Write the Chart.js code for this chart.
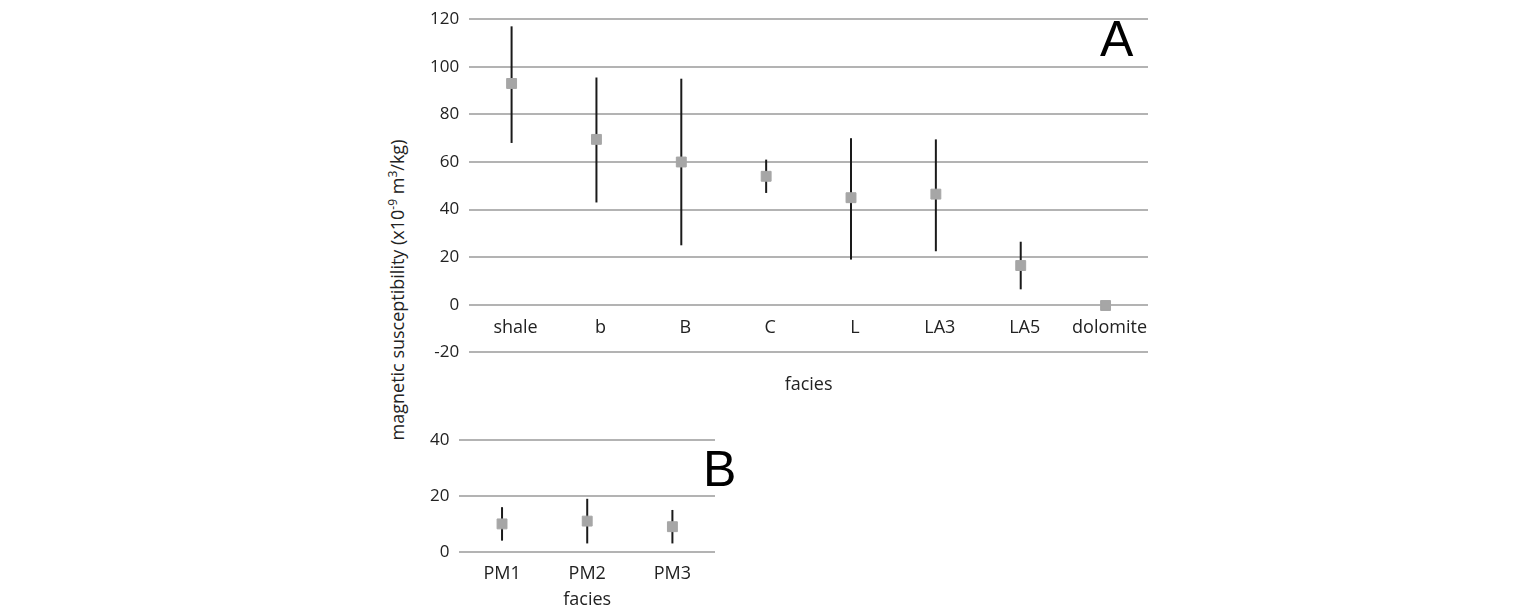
<!DOCTYPE html>
<html><head><meta charset="utf-8">
<script src="https://cdn.jsdelivr.net/npm/chart.js@4"></script>
<style>
body{margin:0;background:#fff;width:1532px;height:611px;position:relative;overflow:hidden;font-family:"Open Sans",sans-serif;}
.c{position:absolute;}
#ytitle{position:absolute;left:396px;top:290px;transform:translate(-50%,-50%) rotate(-90deg);white-space:nowrap;font-size:18px;color:#222;}
.big{position:absolute;font-family:"Liberation Sans",Arial,sans-serif;font-size:50px;color:#000;}
</style></head><body>
<div class="c" style="left:420px;top:-1px;width:740px;height:397px"><canvas id="chartA"></canvas></div>
<div class="c" style="left:420px;top:420px;width:307px;height:191px"><canvas id="chartB"></canvas></div>
<div id="ytitle">magnetic susceptibility (x10<sup style="font-size:12px">-9</sup> m<sup style="font-size:12px">3</sup>/kg)</div>
<div class="big" style="left:1100px;top:10px">A</div>
<div class="big" style="left:703px;top:440px">B</div>
<script>
// Panel A
const faciesA = ['shale', 'b', 'B', 'C', 'L', 'LA3', 'LA5', 'dolomite'];
const meanA = [93, 69.5, 60, 54, 45, 46.5, 16.5, -0.3];
const lowA = [68, 43, 25, 47, 19, 22.5, 6.5, null];
const highA = [117, 95.5, 95, 61, 70, 69.5, 26.5, null];
const ticksA = [120, 100, 80, 60, 40, 20, 0, -20];

// Panel B
const faciesB = ['PM1', 'PM2', 'PM3'];
const meanB = [10, 11, 9];
const lowB = [4, 3, 3];
const highB = [16, 19, 15];
const ticksB = [40, 20, 0];

const errorBars = {
    id: 'errorBars',
    beforeDatasetsDraw(chart, args, opts) {
        const ctx = chart.ctx, x = chart.scales.x, y = chart.scales.y;
        ctx.save();
        ctx.strokeStyle = '#1a1a1a';
        ctx.lineWidth = 2;
        opts.low.forEach((lo, i) => {
            if (lo == null) return;
            const px = x.getPixelForValue(i);
            ctx.beginPath();
            ctx.moveTo(px, y.getPixelForValue(lo));
            ctx.lineTo(px, y.getPixelForValue(opts.high[i]));
            ctx.stroke();
        });
        ctx.restore();
    }
};

// category labels sit just below the zero line (panel A)
const zeroLabels = {
    id: 'zeroLabels',
    afterDraw(chart, args, opts) {
        if (!opts.on) return;
        const ctx = chart.ctx, x = chart.scales.x, y = chart.scales.y;
        ctx.save();
        ctx.fillStyle = '#222';
        ctx.font = '18px "Open Sans"';
        ctx.textAlign = 'center';
        ctx.textBaseline = 'middle';
        chart.data.labels.forEach((l, i) => {
            ctx.fillText(l, x.getPixelForValue(i) + 4, y.getPixelForValue(0) + 23);
        });
        ctx.restore();
    }
};

function makeChart(id, labels, mean, low, high, min, max, onZero) {
    new Chart(document.getElementById(id), {
        type: 'line',
        data: {
            labels: labels,
            datasets: [{
                data: mean,
                showLine: false,
                pointStyle: 'rect',
                pointRadius: 7,
                pointHoverRadius: 7,
                backgroundColor: '#a6a6a6',
                borderColor: '#a6a6a6'
            }]
        },
        plugins: [errorBars, zeroLabels],
        options: {
            responsive: true,
            maintainAspectRatio: false,
            animation: false,
            layout: { padding: { top: 0, right: 12, bottom: 0 } },
            plugins: {
                legend: { display: false },
                tooltip: { enabled: false },
                errorBars: { low: low, high: high },
                zeroLabels: { on: onZero }
            },
            scales: {
                x: {
                    offset: true,
                    grid: { display: false },
                    border: { display: false },
                    ticks: { display: !onZero, color: '#222', font: { size: 18, family: 'Open Sans' }, maxRotation: 0, autoSkip: false },
                    title: { display: true, text: 'facies', color: '#222', font: { size: 18, family: 'Open Sans' }, padding: { top: onZero ? 14 : 2, bottom: 0 } }
                },
                y: {
                    min: min, max: max,
                    ticks: { stepSize: 20, color: '#222', font: { size: 17, family: 'Open Sans' }, padding: 10 },
                    grid: { color: '#b3b3b3', lineWidth: 2, drawTicks: false },
                    border: { display: false }
                }
            }
        }
    });
}

makeChart('chartA', faciesA, meanA, lowA, highA, ticksA[ticksA.length - 1], ticksA[0], true);
makeChart('chartB', faciesB, meanB, lowB, highB, ticksB[ticksB.length - 1], ticksB[0], false);
</script>
</body></html>
